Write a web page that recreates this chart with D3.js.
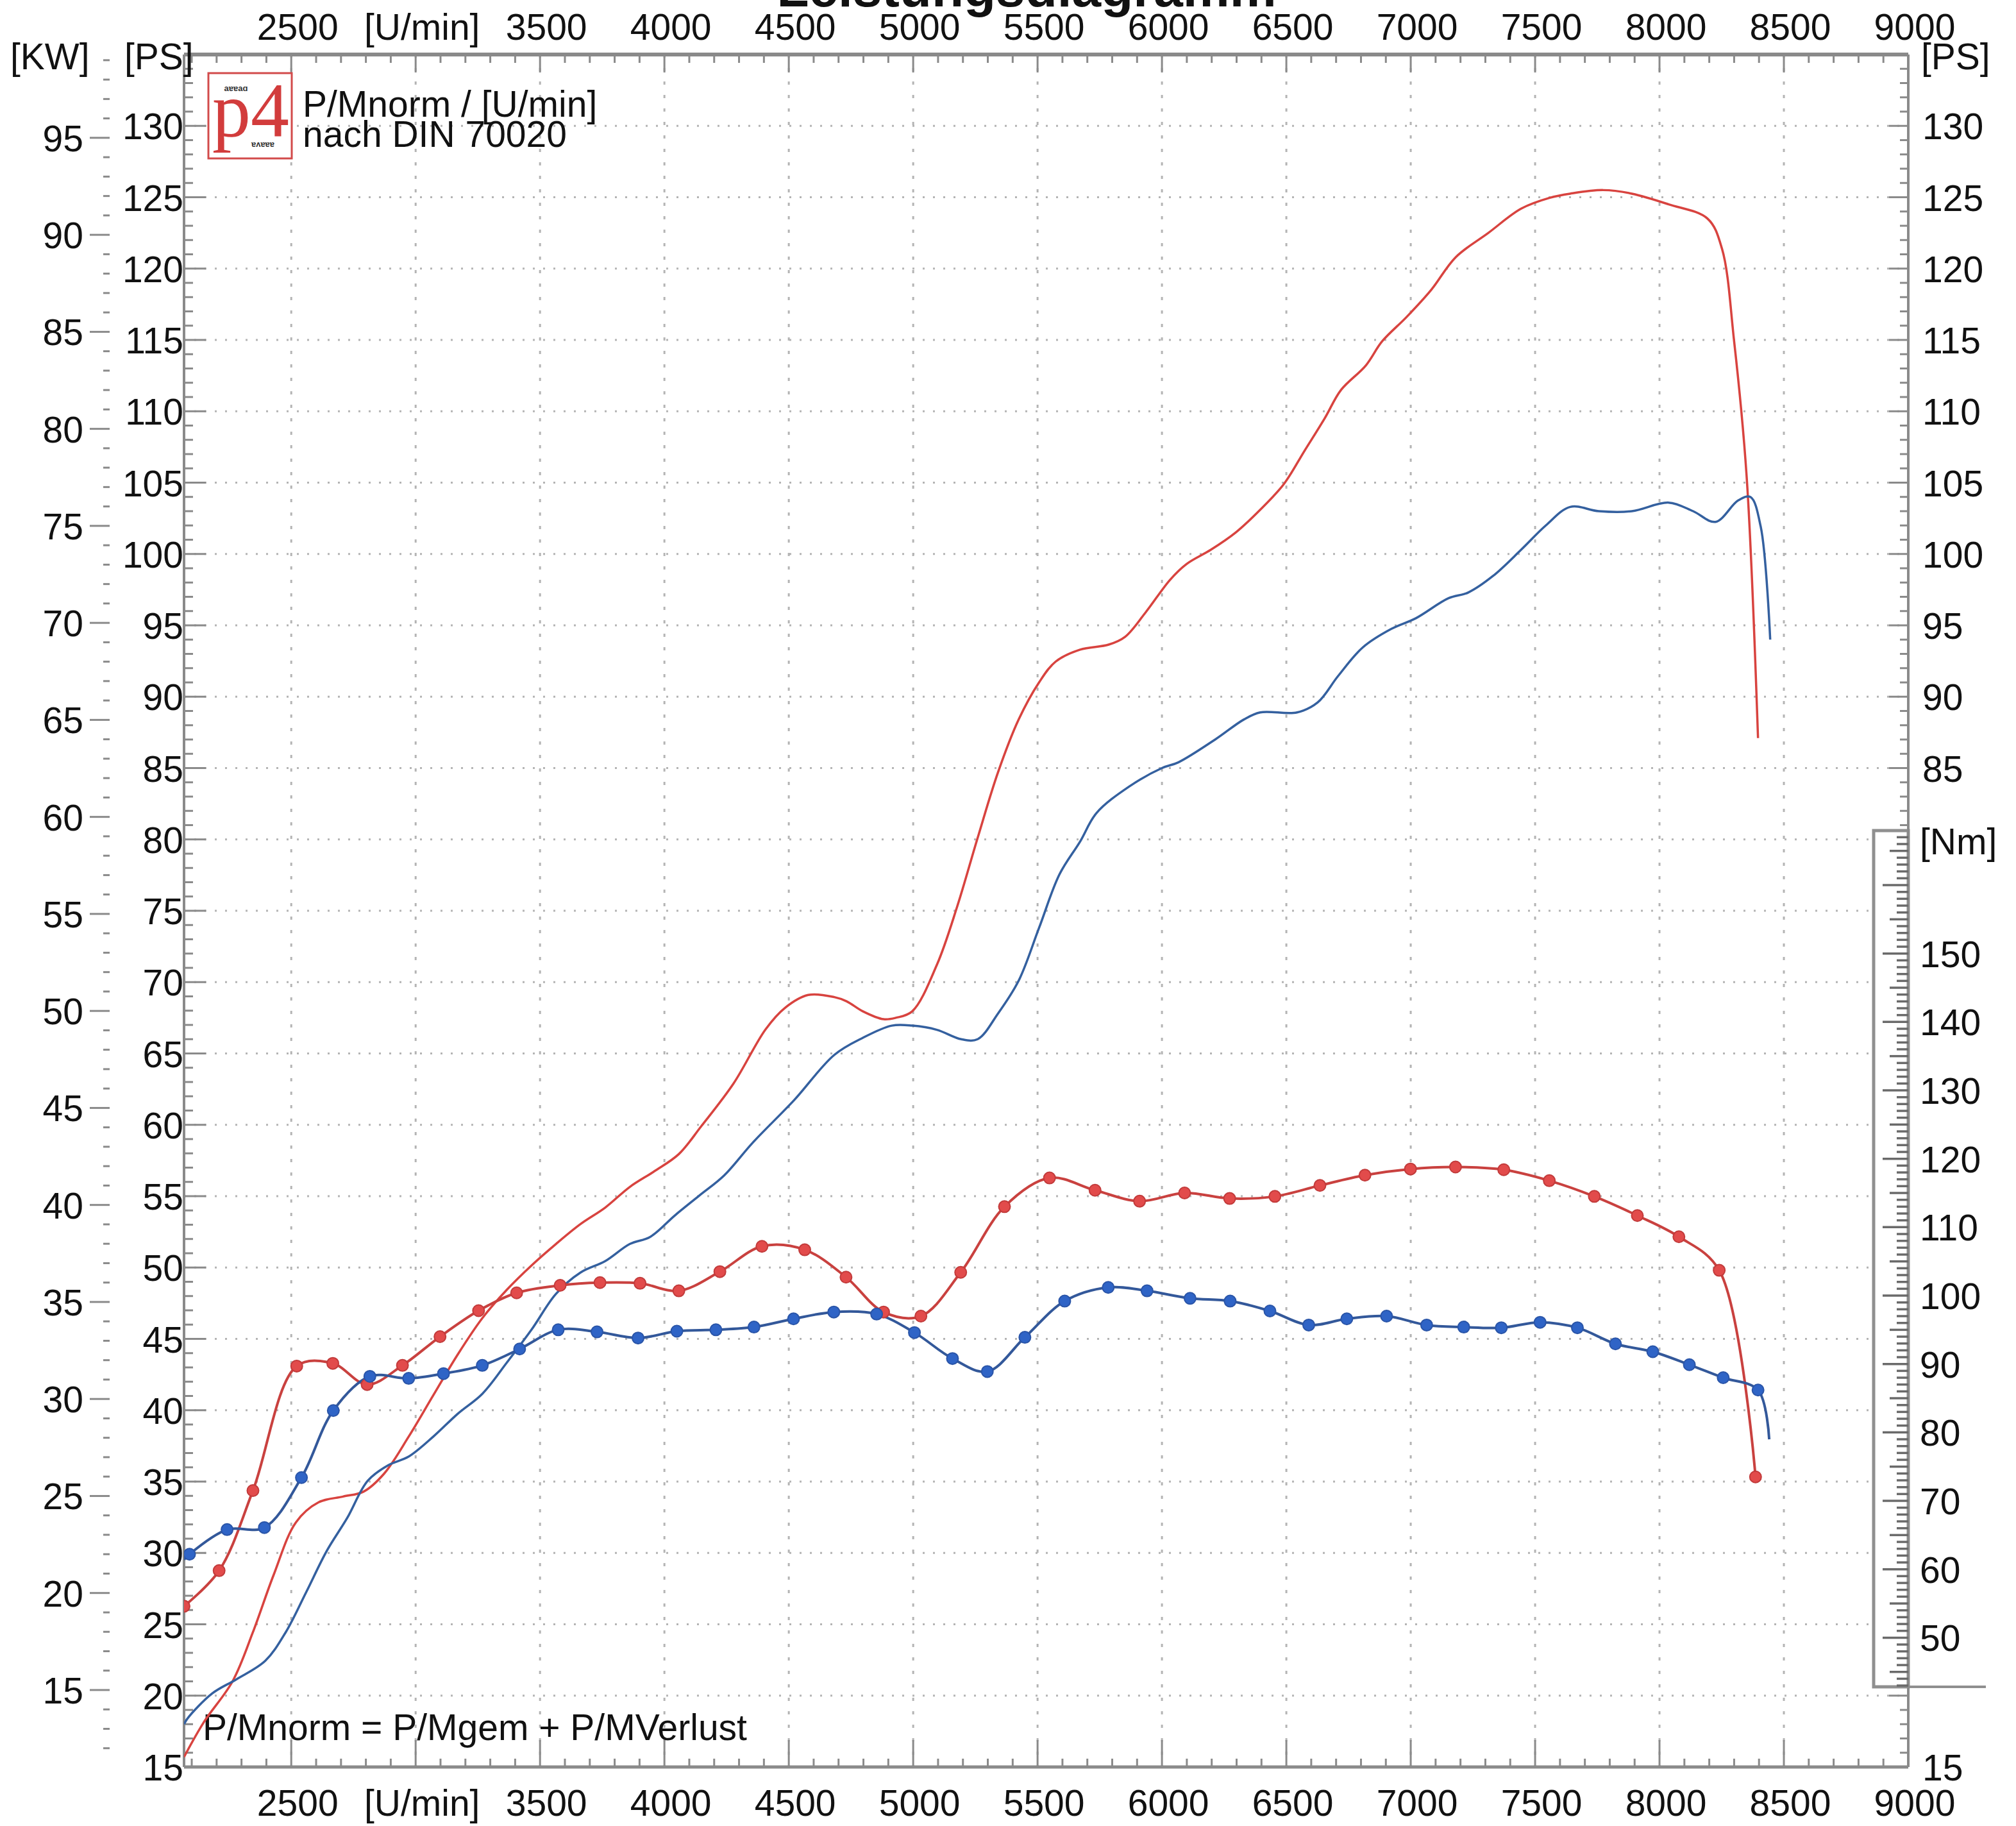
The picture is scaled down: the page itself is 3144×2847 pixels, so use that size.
<!DOCTYPE html>
<html><head><meta charset="utf-8">
<script src="https://cdn.jsdelivr.net/npm/d3@7"></script>
<style>
body{margin:0;background:#fff}
svg{display:block}
text{font-family:"Liberation Sans",Arial,Helvetica,sans-serif;fill:#111}
</style>
</head><body>
<svg id="chart" width="3144" height="2847"></svg>
<script>
// ---------------- DATA ----------------
const rpmGrid = [2500,3000,3500,4000,4500,5000,5500,6000,6500,7000,7500,8000,8500];
const rpmLabelValues = [2500,3000,3500,4000,4500,5000,5500,6000,6500,7000,7500,8000,8500,9000];
const rpmLabelTexts = ["2500","[U/min]","3500","4000","4500","5000","5500","6000","6500","7000","7500","8000","8500","9000"];
const psLeftLabels = [15,20,25,30,35,40,45,50,55,60,65,70,75,80,85,90,95,100,105,110,115,120,125,130];
const psRightLabels = [85,90,95,100,105,110,115,120,125,130];
const psRightBottomLabel = [15];
const kwLabels = [15,20,25,30,35,40,45,50,55,60,65,70,75,80,85,90,95];
const nmLabels = [50,60,70,80,90,100,110,120,130,140,150];
const psGrid = [20,25,30,35,40,45,50,55,60,65,70,75,80,85,90,95,100,105,110,115,120,125,130];

// power P/Mnorm red [PS]
const redPowerRpm = [2069,2149,2264,2346,2429,2519,2610,2708,2791,2873,2972,3071,3169,3268,3367,3466,3564,3663,3762,3861,3960,4058,4148,4278,4407,4485,4578,4683,4732,4798,4881,4930,4996,5095,5177,5259,5341,5424,5506,5572,5671,5786,5852,5934,6033,6099,6197,6296,6395,6490,6572,6654,6720,6819,6885,6983,7082,7181,7312,7444,7559,7641,7773,7889,8037,8193,8251,8300,8350,8396];
const redPowerPS  = [15.7,18.15,21.0,24.45,28.45,32.15,33.55,33.95,34.3,35.55,38.15,41.05,43.9,46.45,48.45,50.15,51.65,53.05,54.2,55.65,56.75,57.95,59.9,62.9,66.7,68.2,69.1,68.95,68.66,67.95,67.4,67.5,67.95,71.2,75.3,80.1,84.7,88.4,91.0,92.45,93.3,93.65,94.2,95.9,98.2,99.3,100.3,101.5,103.1,104.9,107.2,109.5,111.5,113.2,114.9,116.6,118.5,120.8,122.5,124.2,124.96,125.25,125.5,125.25,124.5,123.5,121.4,114.9,105.5,87.1];

// power blue [PS]
const bluePowerRpm = [2069,2083,2182,2280,2396,2478,2560,2643,2725,2807,2890,2972,3071,3169,3268,3367,3466,3564,3663,3762,3861,3943,4042,4141,4240,4355,4520,4683,4798,4914,4996,5095,5193,5259,5341,5424,5506,5588,5671,5737,5868,6000,6066,6214,6329,6395,6543,6626,6708,6807,6922,7021,7152,7231,7330,7444,7543,7641,7756,7889,8037,8135,8225,8316,8365,8407,8445];
const bluePowerPS  = [18.0,18.4,20.15,21.15,22.45,24.45,27.25,30.15,32.45,35.05,36.15,36.75,38.15,39.75,41.15,43.35,45.65,48.15,49.65,50.45,51.65,52.15,53.65,55.05,56.45,58.75,61.7,64.9,66.1,66.95,66.95,66.66,66.0,66.0,67.8,70.1,73.8,77.55,79.85,81.85,83.7,85.0,85.4,87.0,88.4,88.9,88.9,89.6,91.45,93.45,94.75,95.5,96.9,97.3,98.45,100.3,102.0,103.3,103.0,103.0,103.6,103.0,102.25,103.75,104.0,101.9,94.0];

// torque red [Nm] (all samples marked)
const redTorqueRpm = [2069,2210,2346,2522,2667,2805,2947,3098,3253,3406,3581,3741,3902,4058,4223,4392,4564,4730,4881,5031,5191,5367,5548,5731,5910,6091,6272,6454,6635,6816,6999,7180,7374,7557,7738,7911,8078,8240,8386];
const redTorqueNm  = [54.6,59.8,71.5,89.7,90.1,87.0,89.8,94.0,97.8,100.4,101.5,101.9,101.8,100.7,103.5,107.2,106.7,102.7,97.6,97.0,103.4,113.0,117.2,115.4,113.8,115.0,114.2,114.5,116.1,117.6,118.5,118.8,118.4,116.8,114.5,111.7,108.6,103.7,73.5];

// torque blue [Nm] (first and last sample: line only)
const blueTorqueRpm = [2069,2091,2242,2392,2541,2669,2816,2972,3112,3268,3418,3573,3729,3894,4050,4207,4360,4519,4681,4853,5005,5158,5298,5449,5609,5784,5940,6113,6274,6434,6590,6743,6903,7064,7213,7364,7520,7670,7823,7973,8120,8256,8396,8441];
const blueTorqueNm  = [61.4,62.2,65.8,66.1,73.4,83.2,88.2,87.9,88.6,89.8,92.2,95.0,94.7,93.8,94.8,95.0,95.4,96.6,97.6,97.3,94.6,90.8,88.9,93.9,99.2,101.2,100.7,99.6,99.2,97.75,95.7,96.6,97.0,95.7,95.4,95.3,96.1,95.3,92.95,91.8,89.9,88.0,86.2,79.0];

// ---------------- LAYOUT ----------------
const W = 3144, H = 2847;
const L = 287, R = 2976, T = 85, B = 2755;
const KW_PER_PS = 0.7355;
const box = {x0: 2922, y0: 1295, y1: 2630};

const svg = d3.select("#chart");
svg.append("rect").attr("width", W).attr("height", H).attr("fill", "#fff");

const x = d3.scaleLinear().domain([2069, 9000]).range([L, R]);
const yPS = d3.scaleLinear().domain([15, 135]).range([B, T]);
const yKW = d3.scaleLinear().domain([15 * KW_PER_PS, 135 * KW_PER_PS]).range([B, T]);
const yNm = d3.scaleLinear().domain([31.1, 281.4]).range([B, T]);

const gridC = "#b4b4b4", axisC = "#8a8a8a";
const FS = 57;

// grid
const g = svg.append("g");
g.selectAll(".hg").data(psGrid).join("line")
  .attr("x1", L).attr("x2", R).attr("y1", d => yPS(d)).attr("y2", d => yPS(d))
  .attr("stroke", gridC).attr("stroke-width", 3).attr("stroke-dasharray", "3,13");
g.selectAll(".vg").data(rpmGrid).join("line")
  .attr("x1", d => x(d)).attr("x2", d => x(d)).attr("y1", T).attr("y2", B)
  .attr("stroke", gridC).attr("stroke-width", 3).attr("stroke-dasharray", "5,16");

// Nm box (covers grid)
svg.append("rect").attr("x", box.x0).attr("y", box.y0).attr("width", R - box.x0).attr("height", box.y1 - box.y0)
  .attr("fill", "#fff").attr("stroke", "#8f8f8f").attr("stroke-width", 5);
svg.append("line").attr("x1", box.x0).attr("x2", 3097).attr("y1", box.y1).attr("y2", box.y1)
  .attr("stroke", "#8f8f8f").attr("stroke-width", 4);

// axis frame
const ax = svg.append("g").attr("stroke", axisC);
ax.append("line").attr("x1", L).attr("x2", R).attr("y1", T).attr("y2", T).attr("stroke-width", 6);
ax.append("line").attr("x1", L).attr("x2", R).attr("y1", B).attr("y2", B).attr("stroke-width", 5);
ax.append("line").attr("x1", L).attr("x2", L).attr("y1", T).attr("y2", B).attr("stroke-width", 4);
ax.append("line").attr("x1", R).attr("x2", R).attr("y1", T).attr("y2", B).attr("stroke-width", 4);

// rpm ticks (top and bottom)
const rpmMinor = d3.range(2100, 9001, 100);
ax.selectAll(".bt").data(rpmMinor).join("line")
  .attr("x1", d => x(d)).attr("x2", d => x(d))
  .attr("y1", B).attr("y2", d => B - (d % 500 === 0 ? 42 : 13)).attr("stroke-width", 3);
ax.selectAll(".tt").data(rpmMinor).join("line")
  .attr("x1", d => x(d)).attr("x2", d => x(d))
  .attr("y1", T).attr("y2", d => T + (d % 500 === 0 ? 28 : 13)).attr("stroke-width", 3);

// PS ticks left
const psMinor = d3.range(15, 136, 1);
ax.selectAll(".pl").data(psMinor).join("line")
  .attr("x1", L).attr("x2", d => L + (d % 5 === 0 ? 34 : 14))
  .attr("y1", d => yPS(d)).attr("y2", d => yPS(d)).attr("stroke-width", 3);
// PS ticks right (outside Nm box)
ax.selectAll(".pr").data(psMinor.filter(d => yPS(d) < box.y0 - 4 || yPS(d) > box.y1 + 4)).join("line")
  .attr("x1", R).attr("x2", d => R - (d % 5 === 0 ? 30 : 13))
  .attr("y1", d => yPS(d)).attr("y2", d => yPS(d)).attr("stroke-width", 3);
// KW ticks
const kwMinor = d3.range(12, 100, 1);
ax.selectAll(".kw").data(kwMinor).join("line")
  .attr("x1", d => d % 5 === 0 ? 140 : 161).attr("x2", 171)
  .attr("y1", d => yKW(d)).attr("y2", d => yKW(d)).attr("stroke-width", 3);
// Nm ticks inside the box
const nmMinor = d3.range(43, 168, 1);
svg.append("g").attr("stroke", "#6a6a6a").selectAll("line").data(nmMinor).join("line")
  .attr("x1", R).attr("x2", d => R - (d % 10 === 0 ? 40 : d % 5 === 0 ? 29 : 18))
  .attr("y1", d => yNm(d)).attr("y2", d => yNm(d)).attr("stroke-width", 3.5);

// labels
const lab = svg.append("g").attr("font-size", FS);
lab.selectAll(".tl").data(rpmLabelValues).join("text")
  .attr("x", d => x(d) + 10).attr("y", 62).attr("text-anchor", "middle")
  .text((d, i) => rpmLabelTexts[i]);
lab.selectAll(".bl").data(rpmLabelValues).join("text")
  .attr("x", d => x(d) + 10).attr("y", 2831).attr("text-anchor", "middle")
  .text((d, i) => rpmLabelTexts[i]);
lab.selectAll(".psl").data(psLeftLabels).join("text")
  .attr("x", 286).attr("y", d => yPS(d) + 21).attr("text-anchor", "end").text(d => d);
lab.selectAll(".kwl").data(kwLabels).join("text")
  .attr("x", 130).attr("y", d => yKW(d) + 21).attr("text-anchor", "end").text(d => d);
lab.selectAll(".psr").data(psRightLabels.concat(psRightBottomLabel)).join("text")
  .attr("x", 2998).attr("y", d => yPS(d) + 21).attr("text-anchor", "start").text(d => d);
lab.selectAll(".nml").data(nmLabels).join("text")
  .attr("x", 2994).attr("y", d => yNm(d) + 21).attr("text-anchor", "start").text(d => d);
lab.append("text").attr("x", 16).attr("y", 108).text("[KW]");
lab.append("text").attr("x", 194).attr("y", 108).text("[PS]");
lab.append("text").attr("x", 2996).attr("y", 108).text("[PS]");
lab.append("text").attr("x", 2994).attr("y", 1332).text("[Nm]");

// title (clipped by page top)
svg.append("text").attr("x", 1601).attr("y", 10).attr("text-anchor", "middle")
  .attr("font-size", 82).attr("font-weight", "bold").text("Leistungsdiagramm");

// logo
const logo = svg.append("g");
logo.append("rect").attr("x", 325).attr("y", 114).attr("width", 130).attr("height", 133)
  .attr("fill", "#fff").attr("stroke", "#d24a4a").attr("stroke-width", 3);
logo.append("text").attr("x", 391).attr("y", 212).attr("text-anchor", "middle")
  .attr("font-size", 120).style("font-family", "'Liberation Serif','DejaVu Serif',serif")
  .style("fill", "#d23c3c").text("p4");
logo.append("text").attr("x", 368).attr("y", 142).attr("text-anchor", "middle")
  .attr("font-size", 13).attr("font-weight", "bold").style("fill", "#333").text("aɐɐaɑ");
logo.append("text").attr("x", 410).attr("y", 229).attr("text-anchor", "middle")
  .attr("font-size", 13).attr("font-weight", "bold").style("fill", "#333").text("ɐʌɐɐɐ");
lab.append("text").attr("x", 472).attr("y", 182).text("P/Mnorm / [U/min]");
lab.append("text").attr("x", 472).attr("y", 229).text("nach DIN 70020");
lab.append("text").attr("x", 316).attr("y", 2713).text("P/Mnorm = P/Mgem + P/MVerlust");

// ---------------- CURVES ----------------
svg.append("clipPath").attr("id", "plotclip").append("rect")
  .attr("x", L).attr("y", T).attr("width", R - L).attr("height", B - T);
const plot = svg.append("g").attr("clip-path", "url(#plotclip)");

const zip = (a, b) => a.map((v, i) => [v, b[i]]);
const linePS = d3.line().x(d => x(d[0])).y(d => yPS(d[1])).curve(d3.curveCatmullRom.alpha(0.5));
const lineNm = d3.line().x(d => x(d[0])).y(d => yNm(d[1])).curve(d3.curveCatmullRom.alpha(0.5));

const RED = "#d8433f", BLUE = "#34609f";
plot.append("path").datum(zip(redPowerRpm, redPowerPS)).attr("d", linePS)
  .attr("fill", "none").attr("stroke", RED).attr("stroke-width", 3.5);
plot.append("path").datum(zip(bluePowerRpm, bluePowerPS)).attr("d", linePS)
  .attr("fill", "none").attr("stroke", BLUE).attr("stroke-width", 3.5);

const redT = zip(redTorqueRpm, redTorqueNm);
const blueT = zip(blueTorqueRpm, blueTorqueNm);
plot.append("path").datum(redT).attr("d", lineNm)
  .attr("fill", "none").attr("stroke", "#c9413f").attr("stroke-width", 4);
plot.append("path").datum(blueT).attr("d", lineNm)
  .attr("fill", "none").attr("stroke", "#33589a").attr("stroke-width", 4);

plot.selectAll(".rm").data(redT).join("circle")
  .attr("cx", d => x(d[0])).attr("cy", d => yNm(d[1])).attr("r", 9)
  .attr("fill", "#e24b4b").attr("stroke", "#c23b3b").attr("stroke-width", 2);
plot.selectAll(".bm").data(blueT.slice(1, -1)).join("circle")
  .attr("cx", d => x(d[0])).attr("cy", d => yNm(d[1])).attr("r", 9)
  .attr("fill", "#2f64c6").attr("stroke", "#2a55a8").attr("stroke-width", 2);
</script>
</body></html>
